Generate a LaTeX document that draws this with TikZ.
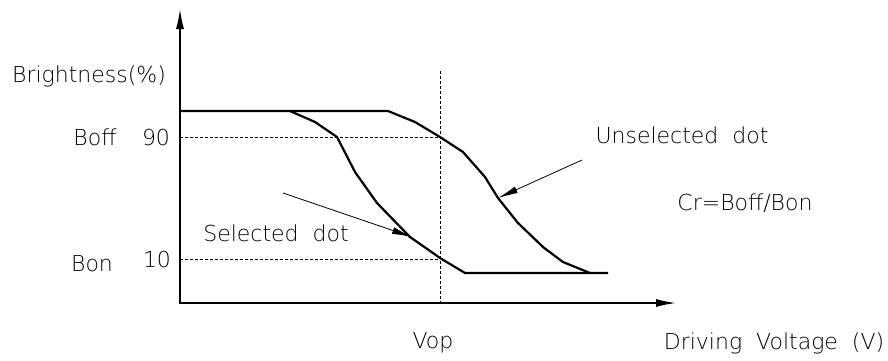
\documentclass[tikz,border=0pt]{standalone}
\usepackage{fontspec}
\setmainfont{DejaVu Sans ExtraLight}
\usetikzlibrary{arrows.meta}

\begin{document}
\begin{tikzpicture}[x=1pt, y=-1pt, font=\fontsize{22}{24}\selectfont,
 axisline/.style={line width=2.6pt},
 curveline/.style={line width=2.2pt, line join=round},
 guideline/.style={thin, dash pattern=on 3pt off 2pt},
 pointer/.style={line width=0.8pt, -{Latex[length=20pt, width=7pt]}}, ]

                \useasboundingbox (0,0) rectangle (888,360);

                % axes
                \coordinate (o) at (180,303);
                \draw [axisline, {Latex[length=22pt, width=8pt]}-{Latex[length=22pt, width=8pt]}]
                      (180,7) -- (o) -- (678,303);

                % guide lines
                \draw [guideline] (180,137) -- (440,137);
                \draw [guideline] (180,259) -- (440,259);
                \draw [guideline] (440,71) -- (440,303);

                % curves
                \draw [curveline] (180,111) -- (388,111) -- (415,122) -- (440,137) -- (463,152)
                      -- (485,177) -- (498,198) -- (518,223) -- (543,247) -- (563,262) -- (590,273);
                \draw [curveline] (290,111) -- (315,122) -- (337,137) -- (355,172) -- (377,203)
                      -- (410,237) -- (433,253) -- (440,258) -- (465,273) -- (608,273);

                % labels
                \node (bright) at (89,76) {Brightness(\%)};
                \node (boff) at (95,137) {Boff};
                \node (n90) at (156,137) {90};
                \node (bon) at (92,264) {Bon};
                \node (n10) at (157,259) {10};
                \node (sel) at (276,233) {Selected~~dot};
                \node (unsel) at (682,135) {Unselected~~dot};
                \node (cr) at (745,203) {Cr=Boff/Bon};
                \node (vop) at (433,343) {Vop};
                \node (volt) at (774,343) {Driving~~Voltage~~(V)};

                % pointers
                \coordinate (selfrom) at (283,193);
                \coordinate (selto) at (412,237);
                \coordinate (unselfrom) at (582,160);
                \coordinate (unselto) at (498,198);
                \draw [pointer] (selfrom) -- (selto);
                \draw [pointer] (unselfrom) -- (unselto);
\end{tikzpicture}
\end{document}
